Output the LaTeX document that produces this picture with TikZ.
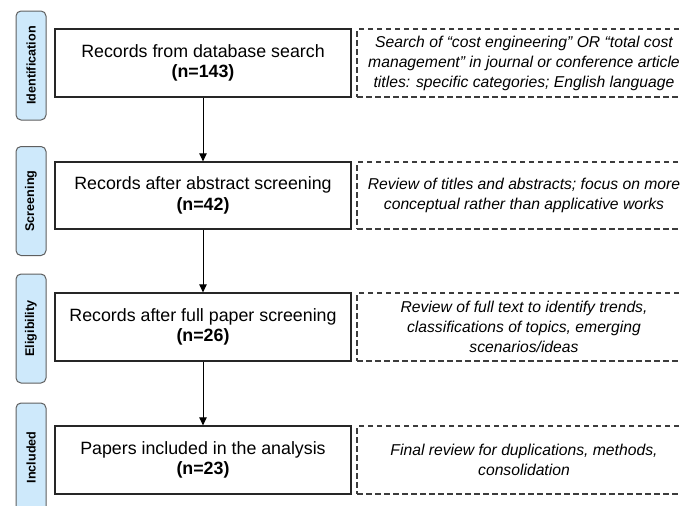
\documentclass[tikz,border=0pt]{standalone}
\usepackage{fontspec}
\setmainfont{Liberation Sans}
\usetikzlibrary{arrows.meta}

\definecolor{tabblue}{RGB}{206,233,251}
\definecolor{tabedge}{RGB}{95,95,95}
\definecolor{notegray}{RGB}{60,60,60}

\tikzset{
  stagebox/.style={draw=black!85, line width=1.3pt, minimum width=296pt,
    minimum height=68pt, align=center, inner sep=0pt,
    font=\fontsize{17.8}{20.5}\selectfont},
  notebox/.style={draw=notegray, dash pattern=on 5.5pt off 3.5pt, line width=1.3pt,
    minimum width=334pt, minimum height=68pt, align=center, inner sep=0pt,
    font=\fontsize{15.7}{20}\selectfont\itshape},
  phasetab/.style={draw=tabedge, fill=tabblue, rounded corners=5pt, line width=1pt,
    minimum width=109pt, minimum height=30pt, inner sep=0pt, rotate=90,
    font=\fontsize{12.6}{14}\selectfont\bfseries},
  flow/.style={-{Triangle[length=8pt,width=7.5pt]}, line width=1pt},
}

\begin{document}
\begin{tikzpicture}[x=1pt, y=-1pt]
    % Frame of the picture
    \useasboundingbox (0,0) rectangle (681,506);
    \clip (0,0) rectangle (681,506);

    % Phase tabs
    \node[phasetab] (tabId)   at (31,65.5)  {Identification};
    \node[phasetab] (tabScr)  at (31,201)   {Screening};
    \node[phasetab] (tabElig) at (31,328.5) {Eligibility};
    \node[phasetab] (tabIncl) at (31,457.5) {Included};

    % Record boxes
    \node[stagebox] (recSearch)   at (203,63)    {Records from database search\\\textbf{(n=143)}};
    \node[stagebox, minimum height=67pt] (recAbstract) at (203,195.5)
        {Records after abstract screening\\\textbf{(n=42)}};
    \node[stagebox] (recFull)     at (203,327)   {Records after full paper screening\\\textbf{(n=26)}};
    \node[stagebox] (recFinal)    at (203,460)   {Papers included in the analysis\\\textbf{(n=23)}};

    % Notes
    \node[notebox] (noteSearch)   at (524,63)
        {Search of “cost engineering” OR “total cost\\management” in journal or conference article\\titles: specific categories; English language};
    \node[notebox, minimum height=67pt] (noteAbstract) at (524,195.5)
        {Review of titles and abstracts; focus on more\\conceptual rather than applicative works};
    \node[notebox] (noteFull)     at (524,327)
        {Review of full text to identify trends,\\classifications of topics, emerging\\scenarios/ideas};
    \node[notebox] (noteFinal)    at (524,460)
        {Final review for duplications, methods,\\consolidation};

    % Flow
    \draw[flow] (recSearch) -- (recAbstract);
    \draw[flow] (recAbstract) -- (recFull);
    \draw[flow] (recFull) -- (recFinal);
\end{tikzpicture}
\end{document}
